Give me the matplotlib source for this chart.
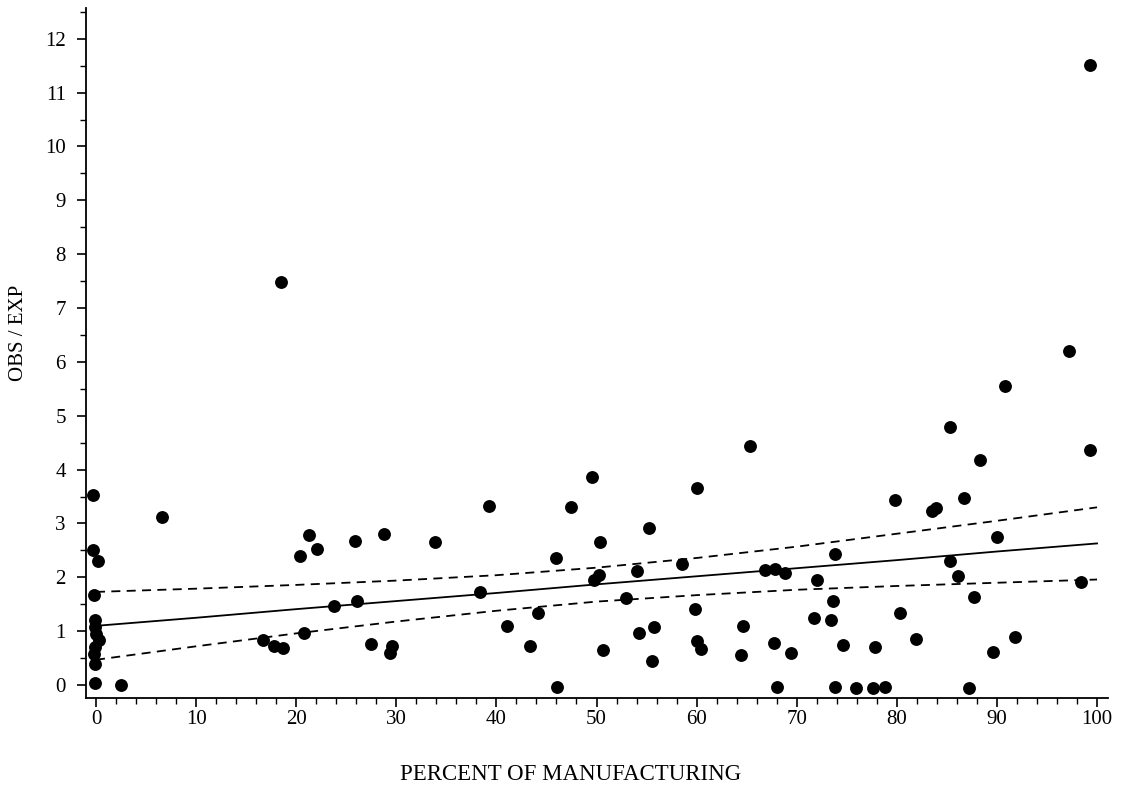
"""Scatter of OBS/EXP against percent of manufacturing, with fitted line and band."""
import matplotlib
matplotlib.use("Agg")
import matplotlib.pyplot as plt
from matplotlib.ticker import MultipleLocator

# points
pct_mfg = [
    -0.3, -0.3, 0.2, -0.2, -0.1, -0.1, 0.0, 0.3, -0.1, -0.2, -0.1, -0.1, 2.5,
    6.6, 16.7, 17.8, 18.7, 18.5,
    20.8, 20.4, 21.3, 22.1, 23.8, 26.1, 25.9,
    27.5, 29.6, 29.4, 28.8, 33.9,
    38.4, 39.3, 41.1, 43.4, 44.2,
    46.0, 46.1, 47.5, 49.5,
    49.7, 50.2, 50.3, 50.6,
    52.9, 54.0, 54.2, 55.2, 55.7, 55.5,
    58.5, 59.8, 60.0, 60.0, 60.4,
    64.6, 64.4, 65.3,
    66.8, 67.8, 68.8, 67.7, 68.0, 69.4,
    72.0, 71.7, 73.4, 73.6, 73.8, 73.8, 74.6,
    75.9, 77.8, 77.6, 78.8,
    79.8, 80.3, 81.9, 83.5, 83.9,
    85.3, 85.3, 86.1, 86.7, 87.2, 87.7, 88.3,
    89.6, 90.0, 90.8, 91.8,
    97.2, 98.4, 99.3, 99.3,
]
obs_exp = [
    3.52, 2.51, 2.30, 1.68, 1.20, 1.08, 0.95, 0.84, 0.70, 0.57, 0.40, 0.03, 0.00,
    3.12, 0.84, 0.73, 0.69, 7.48,
    0.96, 2.39, 2.79, 2.53, 1.46, 1.57, 2.67,
    0.76, 0.73, 0.59, 2.81, 2.65,
    1.72, 3.33, 1.09, 0.73, 1.33,
    2.36, -0.03, 3.31, 3.87,
    1.95, 2.05, 2.65, 0.66,
    1.62, 2.12, 0.96, 2.92, 1.07, 0.45,
    2.25, 1.41, 3.66, 0.81, 0.67,
    1.10, 0.55, 4.44,
    2.14, 2.16, 2.08, 0.78, -0.04, 0.59,
    1.96, 1.25, 1.21, 1.56, 2.43, -0.04, 0.75,
    -0.06, 0.71, -0.06, -0.04,
    3.44, 1.33, 0.86, 3.24, 3.29,
    4.80, 2.30, 2.02, 3.48, -0.05, 1.64, 4.18,
    0.62, 2.75, 5.56, 0.90,
    6.20, 1.92, 4.37, 11.52,
]

# fitted line and its confidence band, read at every 10 percent
band_x = [0, 10, 20, 30, 40, 50, 60, 70, 80, 90, 100]
fit_y = [1.10, 1.25, 1.41, 1.56, 1.71, 1.87, 2.02, 2.17, 2.32, 2.48, 2.63]
upper_y = [1.73, 1.79, 1.86, 1.94, 2.04, 2.18, 2.36, 2.57, 2.81, 3.05, 3.30]
lower_y = [0.47, 0.72, 0.96, 1.18, 1.38, 1.55, 1.67, 1.77, 1.84, 1.90, 1.96]

plt.rcParams["font.family"] = ["Liberation Serif", "DejaVu Serif"]

fig = plt.figure(figsize=(11.24, 7.85), dpi=100)
ax = fig.add_axes([0.0765, 0.1108, 0.9093, 0.879])

ax.scatter(pct_mfg, obs_exp, s=86, color="black", zorder=3, linewidths=0)
ax.plot(band_x, fit_y, color="black", lw=1.3)
ax.plot(band_x, upper_y, color="black", lw=1.3, dashes=(5, 3.5))
ax.plot(band_x, lower_y, color="black", lw=1.3, dashes=(5, 3.5))

ax.set_xlim(-1.0, 101.1)
ax.set_ylim(-0.24, 12.57)
ax.xaxis.set_major_locator(MultipleLocator(10))
ax.xaxis.set_minor_locator(MultipleLocator(2))
ax.yaxis.set_major_locator(MultipleLocator(1))
ax.yaxis.set_minor_locator(MultipleLocator(0.5))

for side in ("top", "right"):
    ax.spines[side].set_visible(False)
for side in ("left", "bottom"):
    ax.spines[side].set_linewidth(1.3)

ax.tick_params(axis="both", which="major", length=6.5, width=1.2,
               labelsize=15, direction="out")
ax.tick_params(axis="both", which="minor", length=4, width=1.0, direction="out")
ax.tick_params(axis="y", which="major", pad=8)
ax.tick_params(axis="x", which="major", pad=2)

ax.set_xlabel("PERCENT OF MANUFACTURING", fontsize=16.5)
ax.set_ylabel("OBS / EXP", fontsize=15)
ax.xaxis.set_label_coords(0.4746, -0.096)
ax.yaxis.set_label_coords(-0.0567, 0.529)

fig.savefig("out.png", dpi=100)
